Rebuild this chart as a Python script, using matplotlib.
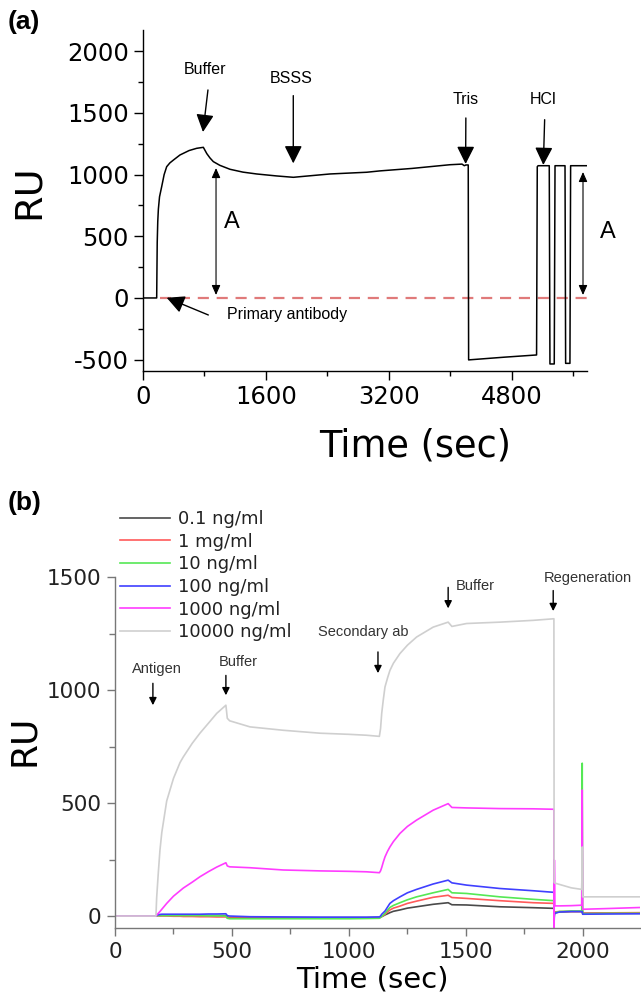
import matplotlib
matplotlib.use("Agg")
import matplotlib.pyplot as plt
from matplotlib.ticker import MultipleLocator

plt.rcParams["axes.unicode_minus"] = False

# ---------------- Panel (a) data ----------------
t_a = [0, 178, 181, 185, 192, 200, 215, 243, 275, 308, 350, 400, 481, 600, 698, 785, 830, 871,
       915, 1000, 1132, 1300, 1479, 1739, 1956, 2042, 2432, 2910, 3083, 3500, 3993, 4150, 4180,
       4200, 4231, 4236, 4700, 5120, 5129, 5140, 5285, 5294, 5350, 5360, 5490, 5498, 5554,
       5563, 5780]
ru_a = [0, 0, 200, 450, 620, 720, 820, 902, 1000, 1064, 1095, 1120, 1159, 1195, 1213, 1221,
        1170, 1135, 1105, 1075, 1043, 1020, 1005, 989, 978, 983, 1005, 1019, 1030, 1050, 1080,
        1085, 1072, 1078, 1078, -502, -480, -462, 1064, 1072, 1072, -535, -535, 1072, 1072,
        -530, -530, 1072, 1072]
baseline_a = [220, 5780]
xticks_a = [0, 1600, 3200, 4800]
yticks_a = [-500, 0, 500, 1000, 1500, 2000]

# ---------------- Panel (b) data ----------------
t_b = [0, 175, 178, 185, 192, 200, 221, 250, 278, 292, 330, 363, 400, 435, 474, 480, 490, 577,
       719, 876, 1000, 1075, 1130, 1135, 1140, 1147, 1154, 1165, 1175, 1190, 1218, 1250, 1289,
       1360, 1424, 1440, 1503, 1645, 1788, 1876, 1877, 1878, 1880, 1900, 1950, 1995, 1997,
       1999, 2100, 2250]
ru_01 = [0, 0, 2, 3, 3, 4, 4, 4, 4, 3, 3, 3, 2, 2, 2, -5, -6, -7, -7, -7, -7, -7, -6, -4, -2,
         1, 5, 10, 15, 21, 27, 35, 41, 52, 59, 50, 49, 41, 37, 34, -5, 10, 15, 18, 20, 20, 30,
         12, 13, 14]
ru_1 = [0, 0, 1, 1, 0, 0, 0, -1, -1, -2, -2, -3, -3, -4, -4, -8, -9, -9, -9, -9, -9, -9, -8,
        -6, -3, 2, 8, 18, 27, 35, 44, 56, 66, 83, 92, 82, 78, 68, 59, 56, 5, 15, 18, 20, 20, 20,
        25, 12, 14, 15]
ru_10 = [0, 0, 1, 2, 2, 2, 2, 2, 2, 2, 2, 2, 1, 1, 0, -10, -12, -12, -12, -12, -12, -11, -10,
         -6, -2, 5, 12, 26, 38, 47, 59, 72, 85, 103, 118, 103, 100, 85, 74, 68, -10, 8, 15, 20,
         22, 22, 677, 10, 12, 12]
ru_100 = [0, 0, 3, 6, 7, 8, 8, 8, 8, 8, 8, 8, 9, 9, 10, 2, 0, -3, -4, -5, -5, -5, -4, 0, 8,
          15, 22, 40, 56, 68, 85, 103, 118, 142, 159, 147, 137, 122, 112, 105, -25, 5, 12, 18,
          20, 20, 20, 8, 9, 10]
ru_1000 = [0, 0, 4, 12, 20, 30, 56, 88, 112, 124, 150, 174, 197, 217, 236, 222, 218, 214, 204,
           200, 198, 196, 192, 200, 215, 240, 262, 287, 306, 330, 366, 397, 425, 469, 498, 481,
           479, 476, 475, 473, -55, 248, 45, 45, 46, 48, 558, 30, 33, 38]
ru_10000 = [0, 0, 80, 190, 290, 370, 510, 610, 680, 705, 765, 810, 855, 898, 934, 876, 865,
            838, 823, 810, 805, 801, 796, 830, 898, 960, 1015, 1055, 1088, 1120, 1163, 1200,
            1236, 1280, 1302, 1283, 1296, 1302, 1310, 1317, 150, 148, 146, 140, 125, 118, 306,
            85, 85, 85]
labels_b = ["0.1 ng/ml", "1 mg/ml", "10 ng/ml", "100 ng/ml", "1000 ng/ml", "10000 ng/ml"]
series_b = [ru_01, ru_1, ru_10, ru_100, ru_1000, ru_10000]
colors_b = ["#4a4a4a", "#ff5a5a", "#55e855", "#4040ff", "#ff3cff", "#cfcfcf"]
xticks_b = [0, 500, 1000, 1500, 2000]
yticks_b = [0, 500, 1000, 1500]

WIDE = "DejaVu Sans"
NARROW = "Liberation Sans"

fig = plt.figure(figsize=(6.41, 10.0), dpi=100)

# ======================= Panel (a) =======================
ax = fig.add_axes([143 / 641, 1 - 371 / 1000, 444 / 641, 341 / 1000])
ax.plot(t_a, ru_a, color="black", lw=1.1, zorder=3)
ax.plot(baseline_a, [0, 0], color="#e07a7a", lw=1.6, ls=(0, (5, 3.5)), zorder=2)
ax.set_xlim(0, 5776)
ax.set_ylim(-592, 2172)
ax.set_xticks(xticks_a)
ax.set_yticks(yticks_a)
ax.xaxis.set_minor_locator(MultipleLocator(800))
ax.yaxis.set_minor_locator(MultipleLocator(250))
for s in ["top", "right"]:
    ax.spines[s].set_visible(False)
for s in ["left", "bottom"]:
    ax.spines[s].set_linewidth(1.0)
ax.tick_params(which="major", direction="out", length=6.5, width=1.0, labelsize=17.5, pad=3.6)
ax.tick_params(which="minor", direction="out", length=3.5, width=1.0)
for lab in ax.get_xticklabels() + ax.get_yticklabels():
    lab.set_fontfamily(WIDE)
ax.set_ylabel("RU", fontsize=27.5, family=WIDE)
ax.yaxis.set_label_coords(-0.257, 0.525)
ax.set_xlabel("Time (sec)", fontsize=26.5, family=WIDE)
ax.xaxis.set_label_coords(0.613, -0.22)
ax.xaxis.label.set_va("center")
ax.yaxis.label.set_va("center")

big = dict(arrowstyle="-|>,head_length=0.4,head_width=0.2", mutation_scale=27,
           color="black", lw=1.0, shrinkA=0, shrinkB=0)
afont = dict(fontsize=11.5, family=NARROW, ha="center", va="center")
ax.annotate("", xy=(780, 1345), xytext=(845, 1686), arrowprops=big)
ax.text(806, 1848, "Buffer", **afont)
ax.annotate("", xy=(1955, 1091), xytext=(1955, 1640), arrowprops=big)
ax.text(1934, 1780, "BSSS", **afont)
ax.annotate("", xy=(4197, 1086), xytext=(4200, 1459), arrowprops=big)
ax.text(4197, 1612, "Tris", **afont)
ax.annotate("", xy=(5208, 1078), xytext=(5225, 1445), arrowprops=big)
ax.text(5208, 1605, "HCl", **afont)
ax.annotate("", xy=(308, 2), xytext=(850, -138), arrowprops=big)
ax.text(1088, -138, "Primary antibody", fontsize=11.5, family=NARROW, ha="left", va="center")

dbl = dict(arrowstyle="<|-|>,head_length=0.45,head_width=0.2", mutation_scale=13,
           color="black", lw=0.8, shrinkA=0, shrinkB=0)
ax.annotate("", xy=(950, 1053), xytext=(950, 24), arrowprops=dbl)
ax.text(1158, 616, "A", fontsize=17, family=NARROW, ha="center", va="center")
ax.annotate("", xy=(5724, 1021), xytext=(5724, 24), arrowprops=dbl, annotation_clip=False)
ax.text(6049, 535, "A", fontsize=17, family=NARROW, ha="center", va="center", clip_on=False)

fig.text(8 / 641, 1 - 22 / 1000, "(a)", fontsize=19, fontweight="bold", family=NARROW,
         ha="left", va="center")

# ======================= Panel (b) =======================
bx = fig.add_axes([115 / 641, 0.072, 525 / 641, 351 / 1000])
lines = []
for ys, c, lab in zip(series_b, colors_b, labels_b):
    ln, = bx.plot(t_b, ys, color=c, lw=1.2, label=lab)
    lines.append(ln)
bx.set_xlim(0, 2244)
bx.set_ylim(-53, 1502)
bx.set_xticks(xticks_b)
bx.set_yticks(yticks_b)
bx.xaxis.set_minor_locator(MultipleLocator(250))
bx.yaxis.set_minor_locator(MultipleLocator(250))
for s in ["top", "right"]:
    bx.spines[s].set_visible(False)
for s in ["left", "bottom"]:
    bx.spines[s].set_linewidth(1.0)
    bx.spines[s].set_color("#777777")
bx.tick_params(which="major", direction="out", length=6, width=1.0, color="#777777",
               labelsize=15.5, labelcolor="#222222", pad=4)
bx.tick_params(which="minor", direction="out", length=4, width=1.0, color="#777777")
for lab in bx.get_xticklabels() + bx.get_yticklabels():
    lab.set_fontfamily(WIDE)
bx.set_ylabel("RU", fontsize=26, family=WIDE)
bx.yaxis.set_label_coords(-0.174, 0.536)
bx.set_xlabel("Time (sec)", fontsize=21, family=WIDE)
bx.xaxis.set_label_coords(0.491, -0.148)
bx.xaxis.label.set_va("center")
bx.yaxis.label.set_va("center")

leg = fig.legend(handles=lines, loc="upper left", bbox_to_anchor=(120 / 641, 1 - 510 / 1000),
                 frameon=False, borderpad=0, borderaxespad=0, handlelength=2.75,
                 handletextpad=0.45, labelspacing=0.26, prop=dict(family=WIDE, size=13))
for t in leg.get_texts():
    t.set_color("#222222")

small = dict(arrowstyle="-|>,head_length=0.4,head_width=0.2", mutation_scale=11,
             color="black", lw=1.0, shrinkA=0, shrinkB=0)
bfont = dict(fontsize=10.5, family=NARROW, color="#333333", ha="center", va="center")
bx.annotate("", xy=(162, 934), xytext=(162, 1031), arrowprops=small)
bx.text(179, 1093, "Antigen", **bfont)
bx.annotate("", xy=(474, 978), xytext=(474, 1066), arrowprops=small)
bx.text(526, 1124, "Buffer", **bfont)
bx.annotate("", xy=(1124, 1076), xytext=(1124, 1170), arrowprops=small)
bx.text(1060, 1257, "Secondary ab", **bfont)
bx.annotate("", xy=(1424, 1363), xytext=(1424, 1456), arrowprops=small)
bx.text(1541, 1460, "Buffer", **bfont)
bx.annotate("", xy=(1873, 1351), xytext=(1873, 1442), arrowprops=small, annotation_clip=False)
bx.text(2019, 1497, "Regeneration", clip_on=False, **bfont)

fig.text(8 / 641, 1 - 503 / 1000, "(b)", fontsize=19, fontweight="bold", family=NARROW,
         ha="left", va="center")

fig.savefig("out.png", dpi=100)
